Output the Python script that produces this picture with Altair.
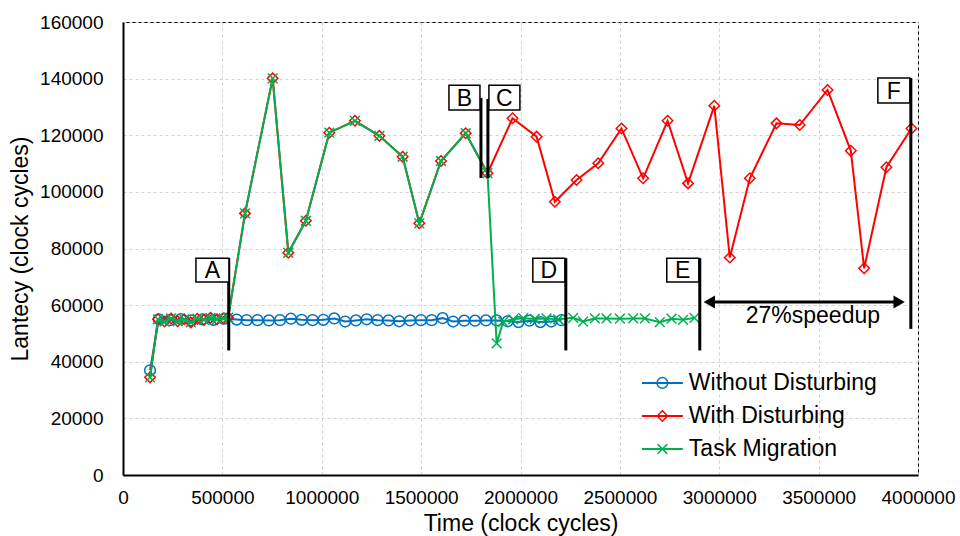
import altair as alt
import pandas as pd

# ---------------- data ----------------
blue_x = [136000, 180000, 235000, 290000, 345000, 400000, 455000, 510000, 572000, 622000,
          677000, 734000, 790000, 845000, 899000, 954000, 1008000, 1063000, 1118000, 1172000,
          1226000, 1281000, 1336000, 1390000, 1445000, 1499000, 1553000, 1608000, 1661000, 1717000,
          1771000, 1826000, 1880000, 1935000, 1990000, 2045000, 2100000, 2155000, 2206000]
blue_y = [37000, 55000, 54700, 55100, 54600, 55000, 54800, 55200, 54900, 54700,
          54700, 54600, 54700, 55200, 54800, 54700, 54800, 55300, 54200, 54600,
          55000, 54700, 54600, 54300, 54600, 54700, 54700, 55400, 54200, 54500,
          54500, 54600, 54600, 54300, 54000, 54500, 54000, 54200, 54700]

red_x = [136000, 176000, 209000, 242000, 275000, 308000, 341000, 374000, 407000, 440000,
         473000, 506000, 529000, 614000, 753000, 832000, 920000, 1038000, 1167000, 1290000,
         1407000, 1491000, 1600000, 1724000, 1834000, 1960000, 2081000, 2173000, 2282000, 2391000,
         2508000, 2617000, 2740000, 2843000, 2975000, 3053000, 3154000, 3288000, 3405000, 3545000,
         3662000, 3729000, 3841000, 3967000]
red_y = [34500, 55000, 54200, 55300, 54300, 55000, 53900, 55200, 54800, 55500,
         55000, 55300, 55600, 92400, 140100, 78500, 89800, 120900, 125100, 119800,
         112400, 88900, 110900, 120700, 106600, 126000, 119500, 96500, 104200, 110100,
         122400, 104800, 125100, 103000, 130400, 76800, 104800, 124200, 123600, 136000,
         114500, 73000, 108700, 122400]

green_x = [136000, 176000, 209000, 242000, 275000, 308000, 341000, 374000, 407000, 440000,
           473000, 506000, 529000, 614000, 753000, 832000, 920000, 1038000, 1167000, 1290000,
           1407000, 1491000, 1600000, 1724000, 1834000, 1880000, 1913000, 1963000, 2014000, 2072000,
           2131000, 2190000, 2265000, 2315000, 2374000, 2433000, 2500000, 2567000, 2626000, 2701000,
           2760000, 2818000, 2875000]
green_y = [34500, 55000, 54200, 55300, 54300, 55000, 53900, 55200, 54800, 55500,
           55000, 55300, 55600, 92400, 140100, 78500, 89800, 120900, 125100, 119800,
           112400, 88900, 110900, 120700, 106600, 46500, 54100, 55000, 55400, 55100,
           55300, 55000, 55500, 54200, 55300, 55300, 55200, 55300, 55300, 54000,
           55200, 54800, 55500]

series_names = ["Without Disturbing", "With Disturbing", "Task Migration"]
x_ticks = [0, 500000, 1000000, 1500000, 2000000, 2500000, 3000000, 3500000, 4000000]
y_ticks = [0, 20000, 40000, 60000, 80000, 100000, 120000, 140000, 160000]

# annotations (data units)
ann_labels = ["A", "B", "C", "D", "E", "F"]
ann_line_x = [532000, 1801000, 1836000, 2228000, 2902000, 3964000]
ann_line_y1 = [44000, 104900, 104900, 44000, 44000, 51600]
ann_line_y2 = [76600, 133200, 132800, 76600, 76600, 140200]
ann_box_x1 = [367000, 1640000, 1841000, 2062000, 2736000, 3798000]
ann_box_x2 = [533000, 1796000, 1997000, 2223000, 2897000, 3959000]
ann_box_y1 = [68200, 128900, 128900, 68200, 68200, 131400]
ann_box_y2 = [76600, 137700, 137700, 76600, 76600, 140200]

arrow_x1, arrow_x2, arrow_y = 2950000, 3905000, 61100
speedup_text = "27%speedup"
speedup_pos = (3471000, 56200)

legend_y = [32500, 20840, 9180]
legend_sx = (2611000, 2817000)
legend_mx = 2714000
legend_tx = 2847000

# ---------------- styles ----------------
FONT = "Liberation Sans"
BLUE, RED, GREEN = "#0070C0", "#FF0000", "#00B050"
XSHAPE = "M-1,-1L1,1M-1,1L1,-1"

xscale = alt.Scale(domain=[0, 4000000], nice=False, zero=False)
yscale = alt.Scale(domain=[0, 160000], nice=False)

xaxis = alt.Axis(title="Time (clock cycles)", values=x_ticks, format="d",
                 labelFont=FONT, labelFontSize=19, labelColor="black",
                 titleFont=FONT, titleFontSize=23, titleFontWeight="normal", titleColor="black",
                 grid=True, gridColor="#d0d0d0", gridDash=[3, 3], gridWidth=1,
                 domainColor="black", domainWidth=2, ticks=False,
                 labelPadding=13, titlePadding=5, labelFlush=False, labelOverlap=False)
yaxis = alt.Axis(title="Lantecy (clock cycles)", values=y_ticks, format="d",
                 labelFont=FONT, labelFontSize=19, labelColor="black",
                 titleFont=FONT, titleFontSize=23, titleFontWeight="normal", titleColor="black",
                 grid=True, gridColor="#d0d0d0", gridDash=[3, 3], gridWidth=1,
                 domainColor="black", domainWidth=2, ticks=False,
                 labelPadding=20, titlePadding=7, labelOverlap=False)


def X(f="x"):
    return alt.X(f"{f}:Q", scale=xscale, axis=xaxis)


def Y(f="y"):
    return alt.Y(f"{f}:Q", scale=yscale, axis=yaxis)


blue_df = pd.DataFrame({"x": blue_x, "y": blue_y})
red_df = pd.DataFrame({"x": red_x, "y": red_y})
green_df = pd.DataFrame({"x": green_x, "y": green_y})

layers = []
for df, col, shape, size in [(blue_df, BLUE, "circle", 115),
                             (red_df, RED, "diamond", 110),
                             (green_df, GREEN, XSHAPE, 95)]:
    layers.append(alt.Chart(df).mark_line(color=col, strokeWidth=2).encode(x=X(), y=Y()))
    layers.append(alt.Chart(df).mark_point(shape=shape, size=size, color=col, filled=False,
                                           strokeWidth=1.5, opacity=1).encode(x=X(), y=Y()))

ann_df = pd.DataFrame({"label": ann_labels, "x": ann_line_x, "y": ann_line_y1, "y2": ann_line_y2,
                       "bx1": ann_box_x1, "bx2": ann_box_x2, "by1": ann_box_y1, "by2": ann_box_y2})
ann_df["tx"] = (ann_df["bx1"] + ann_df["bx2"]) / 2
ann_df["ty"] = (ann_df["by1"] + ann_df["by2"]) / 2

layers.append(alt.Chart(ann_df).mark_rule(color="black", strokeWidth=3).encode(
    x=X(), y=Y(), y2="y2:Q"))
layers.append(alt.Chart(ann_df).mark_rect(fill="white", stroke="black", strokeWidth=1.5).encode(
    x=X("bx1"), x2="bx2:Q", y=Y("by1"), y2="by2:Q"))
layers.append(alt.Chart(ann_df).mark_text(font=FONT, fontSize=23, color="black",
                                          align="center", baseline="middle", dy=1).encode(
    x=X("tx"), y=Y("ty"), text="label:N"))

arrow_df = pd.DataFrame({"x": [arrow_x1], "x2": [arrow_x2], "y": [arrow_y]})
layers.append(alt.Chart(arrow_df).mark_rule(color="black", strokeWidth=3).encode(
    x=X(), x2="x2:Q", y=Y()))
heads_df = pd.DataFrame({"x": [arrow_x1, arrow_x2], "y": [arrow_y, arrow_y],
                         "shape": ["triangle-left", "triangle-right"]})
layers.append(alt.Chart(heads_df).mark_point(filled=True, color="black", size=170, opacity=1).encode(
    x=X(), y=Y(), shape=alt.Shape("shape:N", scale=None)))
sp_df = pd.DataFrame({"x": [speedup_pos[0]], "y": [speedup_pos[1]], "t": [speedup_text]})
layers.append(alt.Chart(sp_df).mark_text(font=FONT, fontSize=23, color="black",
                                         align="center", baseline="middle").encode(
    x=X(), y=Y(), text="t:N"))

# legend (inside plot, lower right)
leg_df = pd.DataFrame({"label": series_names, "y": legend_y,
                       "x": [legend_sx[0]] * 3, "x2": [legend_sx[1]] * 3,
                       "mx": [legend_mx] * 3, "tx": [legend_tx] * 3,
                       "col": [BLUE, RED, GREEN], "shape": ["circle", "diamond", XSHAPE],
                       "size": [115, 110, 95]})
layers.append(alt.Chart(leg_df).mark_rule(strokeWidth=2).encode(
    x=X(), x2="x2:Q", y=Y(), color=alt.Color("col:N", scale=None)))
layers.append(alt.Chart(leg_df).mark_point(filled=False, strokeWidth=1.5, opacity=1).encode(
    x=X("mx"), y=Y(), color=alt.Color("col:N", scale=None),
    shape=alt.Shape("shape:N", scale=None), size=alt.Size("size:Q", scale=None)))
layers.append(alt.Chart(leg_df).mark_text(font=FONT, fontSize=23, color="black",
                                          align="left", baseline="middle").encode(
    x=X("tx"), y=Y(), text="label:N"))

chart = alt.layer(*layers).properties(
    width=795, height=453, autosize="none",
    padding={"left": 123, "top": 22, "right": 42, "bottom": 61},
    background="white",
).configure_view(stroke="black", strokeWidth=1)

chart.save("out.html", embed_options={"renderer": "svg", "actions": False})
